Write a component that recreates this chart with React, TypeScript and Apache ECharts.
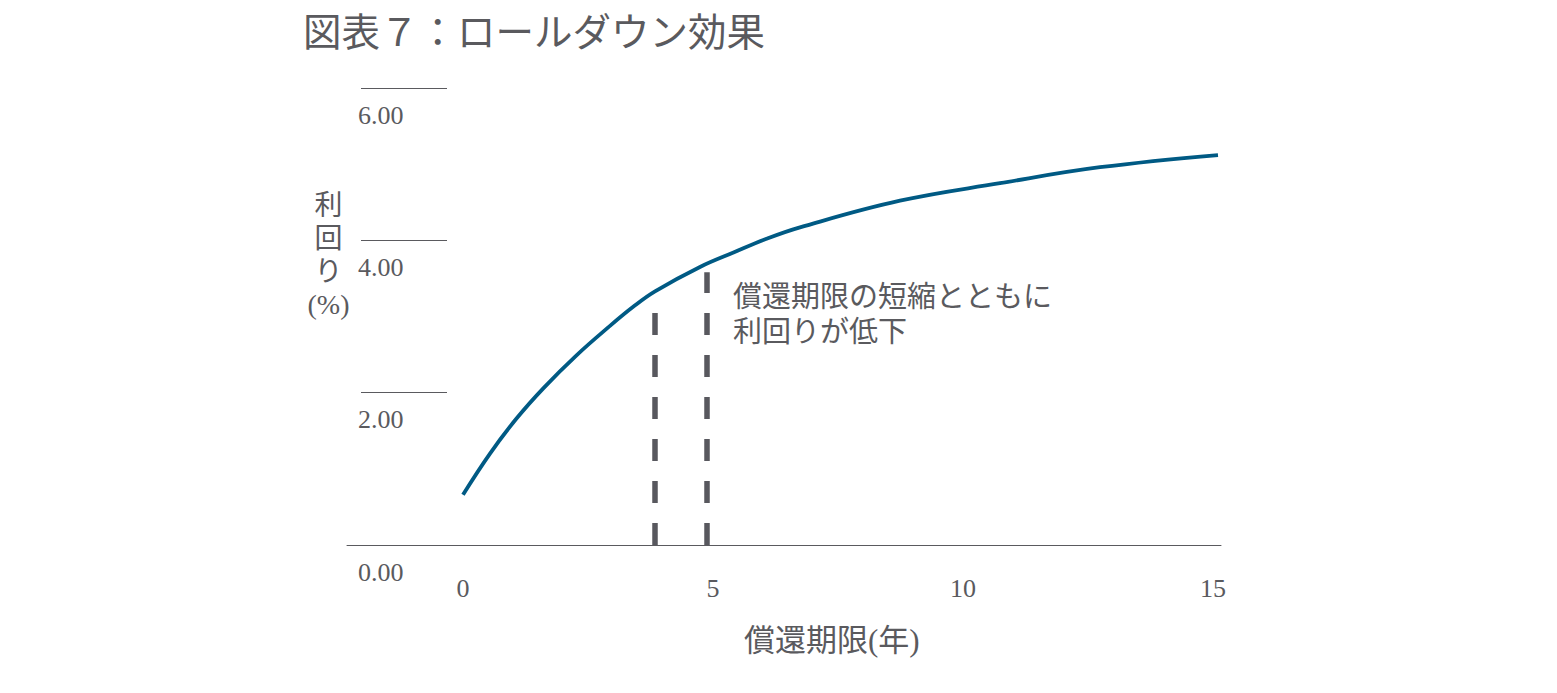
import React, { useEffect, useRef } from "react";
import * as echarts from "echarts";

// ---- data ----
const maturities = [0, 0.54, 1.07, 1.61, 2.27, 2.91, 3.41, 3.84, 4.74, 5.41, 6.07, 6.74, 8.74, 10.74, 12.74, 15.1];
const yields = [0.66, 1.2, 1.66, 2.06, 2.49, 2.86, 3.13, 3.33, 3.65, 3.84, 4.02, 4.17, 4.52, 4.75, 4.96, 5.12];
const dashX = [3.84, 4.88];
const dashTop = [3.05, 3.58];
const xTickValues = [0, 5, 10, 15];
const yTickValues = [0, 2, 4, 6];

const titleText = "図表７：ロールダウン効果";
const yAxisTitle = "利\n回\nり\n(%)";
const xAxisTitle = "償還期限(年)";
const noteText = "償還期限の短縮とともに\n利回りが低下";

const TEXT = "#5a5a5e";
const LINE = "#005a84";
const DASH = "#58585e";
const FONT = "'Liberation Serif', 'Noto Sans CJK JP', serif";

export default function App() {
  const ref = useRef<HTMLDivElement>(null);

  useEffect(() => {
    if (!ref.current) return;
    const chart = echarts.init(ref.current, undefined, { renderer: "svg" });

    const curve = maturities.map((m, i) => [m, yields[i]]);

    const dashSeries = dashX.map((x, i) => ({
      type: "line",
      xAxisIndex: 0,
      yAxisIndex: 0,
      data: [
        [x, 0],
        [x, dashTop[i]],
      ],
      symbol: "none",
      silent: true,
      lineStyle: { color: DASH, width: 5.5, type: [22, 20] },
      z: 2,
    }));

    chart.setOption({
      animation: false,
      backgroundColor: "#ffffff",
      textStyle: { fontFamily: FONT },
      grid: [
        { left: 347, right: 336, top: 88, bottom: 148 },
        { left: 361, width: 86, top: 88, bottom: 148 },
      ],
      xAxis: [
        {
          type: "value",
          gridIndex: 0,
          min: -2.32,
          max: 15.16,
          axisLine: { show: true, lineStyle: { color: "#5a5a5e", width: 1 } },
          axisTick: { show: false },
          splitLine: { show: false },
          axisLabel: {
            customValues: xTickValues,
            color: TEXT,
            fontSize: 26,
            fontFamily: FONT,
            margin: 30,
          },
        },
        { type: "value", gridIndex: 1, min: 0, max: 1, show: false },
      ],
      yAxis: [
        { type: "value", gridIndex: 0, min: 0, max: 6, interval: 2, show: false },
        {
          type: "value",
          gridIndex: 1,
          min: 0,
          max: 6,
          interval: 2,
          axisLine: { show: false },
          axisTick: { show: false },
          splitLine: { show: true, lineStyle: { color: "#5a5a5e", width: 1 } },
          axisLabel: {
            customValues: yTickValues,
            inside: true,
            margin: -3,
            align: "left",
            verticalAlign: "top",
            padding: [14, 0, 0, 0],
            color: TEXT,
            fontSize: 26,
            fontFamily: FONT,
            formatter: (v: number) => v.toFixed(2),
          },
        },
      ],
      series: [
        {
          type: "line",
          xAxisIndex: 0,
          yAxisIndex: 0,
          data: curve,
          smooth: 0.4,
          symbol: "none",
          lineStyle: { color: LINE, width: 3.8 },
          z: 3,
        },
        ...dashSeries,
      ],
      graphic: [
        {
          type: "text",
          left: 303,
          top: 14,
          style: { text: titleText, fontSize: 38.5, fontFamily: FONT, fill: TEXT },
        },
        {
          type: "text",
          x: 328.5,
          y: 188.5,
          style: {
            text: yAxisTitle,
            fontSize: 28,
            lineHeight: 33,
            fontFamily: FONT,
            fill: TEXT,
            align: "center",
            verticalAlign: "top",
          },
        },
        {
          type: "text",
          x: 733,
          y: 279,
          style: {
            text: noteText,
            fontSize: 29,
            lineHeight: 35,
            fontFamily: FONT,
            fill: TEXT,
            align: "left",
            verticalAlign: "top",
          },
        },
        {
          type: "text",
          x: 744,
          y: 640,
          style: {
            text: xAxisTitle,
            fontSize: 31,
            fontFamily: FONT,
            fill: TEXT,
            align: "left",
            verticalAlign: "middle",
          },
        },
      ],
    });

    return () => chart.dispose();
  }, []);

  return (
    <div
      ref={ref}
      style={{ position: "fixed", left: 0, top: 0, width: 1557, height: 693, background: "#fff" }}
    />
  );
}
